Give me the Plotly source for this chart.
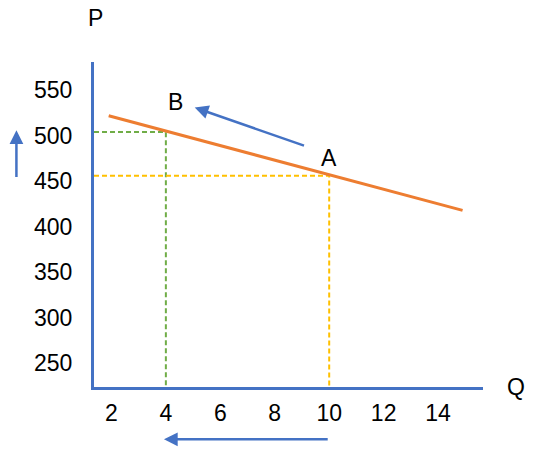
import plotly.graph_objects as go

# demand line (Q, P)
line_q = [1.9, 14.9]
line_p = [522, 418]

# points B and A on the line
point_q = [4, 10]
point_p = [504, 456]
point_names = ["B", "A"]
label_q = [4.37, 10.0]
label_p = [537, 476]

x_ticks = [2, 4, 6, 8, 10, 12, 14]
y_ticks = [250, 300, 350, 400, 450, 500, 550]

x_range = [1.36, 15.65]
y_range = [224, 581]

# arrows (tail q, tail p, head q, head p)
arrows = [
    (9.13, 488.5, 5.06, 531),     # A -> B along the line
    (-1.49, 453, -1.49, 506),     # price goes up
    (10.0, 166.5, 3.93, 166.5),   # quantity goes down
]

blue = "#4472C4"
font = "Liberation Sans, Arial, sans-serif"

# page has 8px body margin, so figure is a bit smaller
W, H = 530, 446
M = dict(l=86, r=55, t=54, b=67)
plot_w = W - M["l"] - M["r"]
plot_h = H - M["t"] - M["b"]


def to_paper(q, p):
    return ((q - x_range[0]) / (x_range[1] - x_range[0]),
            (p - y_range[0]) / (y_range[1] - y_range[0]))


fig = go.Figure()

# dashed guide lines
guide_colors = ["#70AD47", "#FFC000"]
for q, p, c in zip(point_q, point_p, guide_colors):
    fig.add_trace(go.Scatter(x=[x_range[0], q, q], y=[p, p, y_range[0]], mode="lines",
                             line=dict(color=c, width=2, dash="5px,3px"),
                             hoverinfo="skip", showlegend=False))

fig.add_trace(go.Scatter(x=line_q, y=line_p, mode="lines",
                         line=dict(color="#ED7D31", width=3), showlegend=False))

# labels A, B
for q, p, t in zip(label_q, label_p, point_names):
    fig.add_annotation(x=q, y=p, text=t, showarrow=False,
                       font=dict(family=font, size=23, color="black"))

for q0, p0, q1, p1 in arrows:
    hx, hy = to_paper(q1, p1)
    tx, ty = to_paper(q0, p0)
    fig.add_annotation(x=hx, y=hy, xref="paper", yref="paper",
                       ax=(tx - hx) * plot_w, ay=-(ty - hy) * plot_h,
                       showarrow=True, arrowhead=2, arrowsize=1.1, arrowwidth=2.5,
                       arrowcolor=blue, text="")

# axis names
fig.add_annotation(x=(95 - 93) / 390, y=(387 - 18) / 325, xref="paper", yref="paper",
                   xanchor="center", yanchor="middle",
                   text="P", showarrow=False, font=dict(family=font, size=23, color="black"))
fig.add_annotation(x=(516 - 93) / 390, y=0, xref="paper", yref="paper",
                   xanchor="center", yanchor="middle",
                   text="Q", showarrow=False, font=dict(family=font, size=23, color="black"))

fig.update_layout(
    width=W, height=H,
    margin=M,
    paper_bgcolor="white", plot_bgcolor="white",
    font=dict(family=font, size=23, color="black"),
    xaxis=dict(range=x_range, tickvals=x_ticks, showgrid=False, zeroline=False,
               showline=True, linecolor=blue, linewidth=3,
               ticks="outside", ticklen=3, tickcolor="rgba(0,0,0,0)",
               tickfont=dict(size=23)),
    yaxis=dict(range=y_range, tickvals=y_ticks, showgrid=False, zeroline=False,
               showline=True, linecolor=blue, linewidth=3,
               ticks="outside", ticklen=14, tickcolor="rgba(0,0,0,0)",
               tickfont=dict(size=23)),
)

fig.write_html("out.html")
